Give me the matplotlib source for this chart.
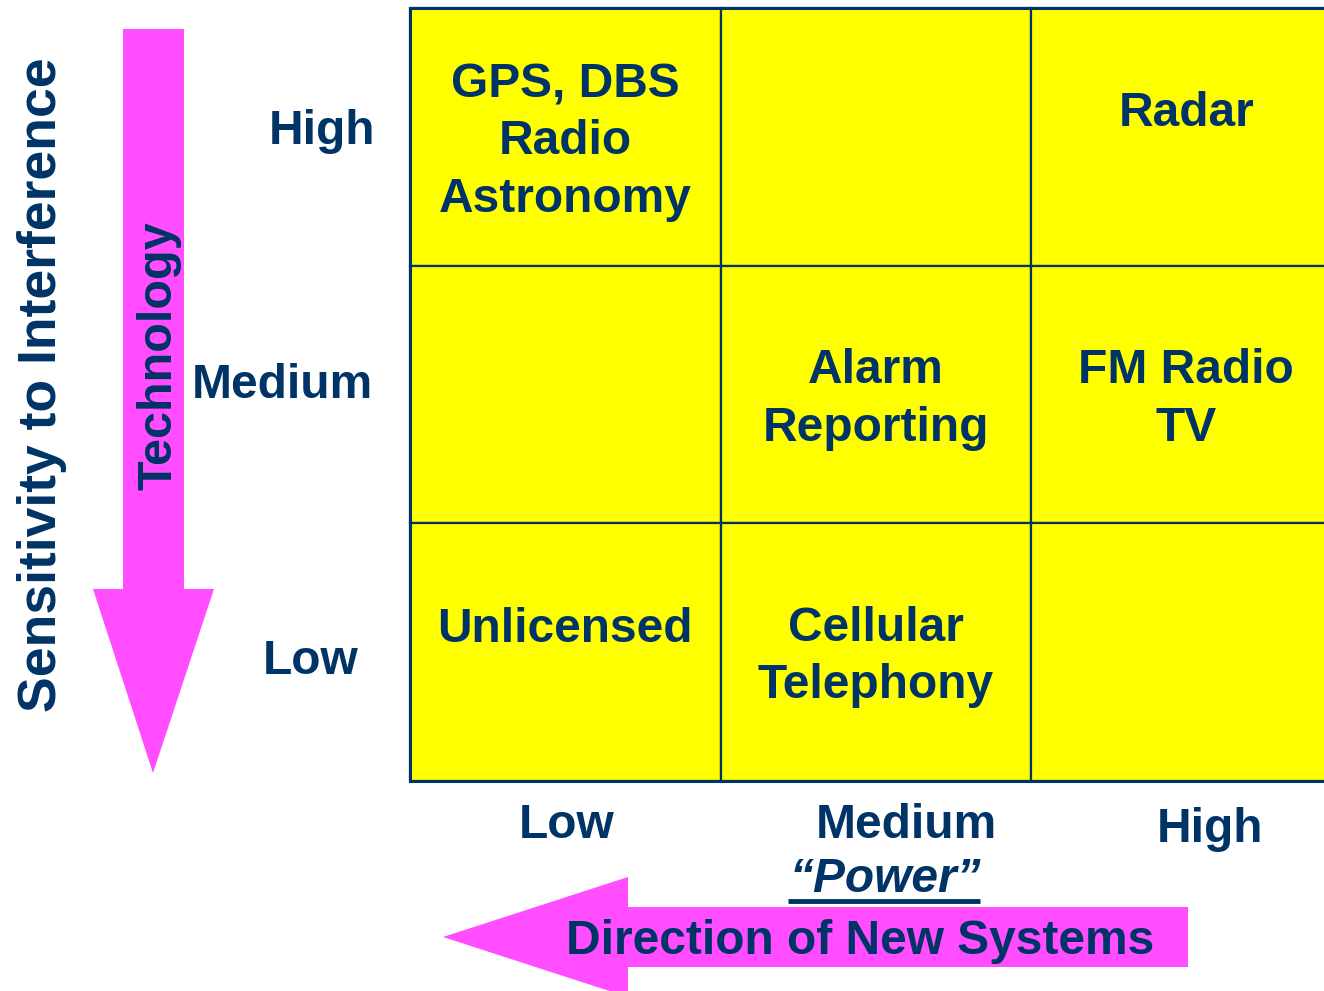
import matplotlib.pyplot as plt
from matplotlib.patches import Rectangle, Polygon

plt.rcParams['font.family'] = ['Liberation Sans', 'DejaVu Sans']
plt.rcParams['font.weight'] = 'bold'

# ----------------------------------
# data
# ----------------------------------

sensitivity_levels = ["High", "Medium", "Low"]     # rows, top to bottom
power_levels = ["Low", "Medium", "High"]           # columns, left to right

cell_systems = [
    ["GPS, DBS\nRadio\nAstronomy", "", "Radar"],
    ["", "Alarm\nReporting", "FM Radio\nTV"],
    ["Unlicensed", "Cellular\nTelephony", ""],
]

y_title = "Sensitivity to Interference"
x_title = "\u201cPower\u201d"
down_arrow_text = "Technology"
left_arrow_text = "Direction of New Systems"

# ----------------------------------
# style
# ----------------------------------

navy = "#003366"
yellow = "#FFFF00"
pink = "#FF4DFF"
fs = 34.5

W, H = 1324, 991
grid_x0, grid_y0 = 410, 8
cell_w, cell_h = 310.5, 257.7

fig = plt.figure(figsize=(W / 100, H / 100), dpi=100)
ax = fig.add_axes([0, 0, 1, 1])
ax.set_xlim(0, W)
ax.set_ylim(H, 0)
ax.axis("off")

# ----------------------------------
# grid
# ----------------------------------

for r, row in enumerate(cell_systems):
    for c, label in enumerate(row):
        x = grid_x0 + c * cell_w
        y = grid_y0 + r * cell_h
        ax.add_patch(Rectangle((x, y), cell_w, cell_h,
                               facecolor=yellow, edgecolor=navy, lw=1.6))
        if label:
            # single line entries sit in the upper half of the cell
            dy = -23 if "\n" not in label else 5
            ax.text(x + cell_w / 2, y + cell_h / 2 + dy, label,
                    ha="center", va="center", fontsize=fs,
                    color=navy, linespacing=1.35)

ax.add_patch(Rectangle((grid_x0, grid_y0), 3 * cell_w, 3 * cell_h,
                       fill=False, edgecolor=navy, lw=2.2))

# row labels
row_label_pos = [(322, 132), (282, 385), (311, 662)]
for label, (x, y) in zip(sensitivity_levels, row_label_pos):
    ax.text(x, y, label, ha="center", va="center", fontsize=fs, color=navy)

# column labels
col_label_pos = [(567, 826), (906, 826), (1210, 830)]
for label, (x, y) in zip(power_levels, col_label_pos):
    ax.text(x, y, label, ha="center", va="center", fontsize=fs, color=navy)

# ----------------------------------
# arrows
# ----------------------------------

# down arrow
ax.add_patch(Polygon([(123, 29), (184, 29), (184, 589), (214, 589),
                      (153, 773), (93, 589), (123, 589)],
                     closed=True, facecolor=pink, edgecolor="none"))
ax.text(159, 356, down_arrow_text, rotation=90, ha="center", va="center",
        fontsize=35, color=navy)

# left arrow
ax.add_patch(Polygon([(1188, 907), (628, 907), (628, 877), (443, 937),
                      (628, 997), (628, 967), (1188, 967)],
                     closed=True, facecolor=pink, edgecolor="none"))
ax.text(860, 942, left_arrow_text, ha="center", va="center",
        fontsize=fs, color=navy)

# axis titles
ax.text(42, 385, y_title, rotation=90, ha="center", va="center",
        fontsize=38.5, color=navy)
ax.text(885, 879, x_title, ha="center", va="center", fontsize=fs,
        color=navy, style="italic")
ax.plot([788, 980], [900.5, 900.5], color=navy, lw=3.5,
        solid_capstyle="butt")

fig.savefig("out.png", dpi=100)
